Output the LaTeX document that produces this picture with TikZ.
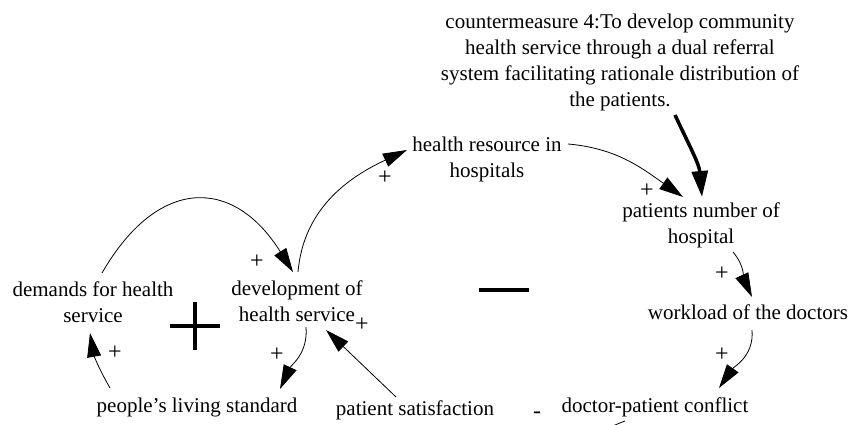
\documentclass[tikz,border=0pt]{standalone}
\usepackage{fontspec}
\setmainfont{Liberation Serif}
\usetikzlibrary{arrows.meta}
\begin{document}
\begin{tikzpicture}[x=1pt,y=1pt,
  lbl/.style={align=center,inner sep=0pt,font=\fontsize{21}{26}\selectfont},
  sgn/.style={inner sep=0pt,font=\fontsize{24}{26}\selectfont},
  link/.style={line width=0.8pt,-{Triangle[length=24pt,width=14pt]}},
  thicklink/.style={line width=3.5pt,-{Triangle[length=26pt,width=16pt]}},
  bigsign/.style={line width=4pt}]
\useasboundingbox (0,0) rectangle (854,425);
\clip (0,0) rectangle (854,425);
\fill[white] (0,0) rectangle (854,425);

\node[lbl] (cm) at (620,363) {countermeasure 4:To develop community\\health service through a dual referral\\system facilitating rationale distribution of\\the patients.};
\node[lbl] (res) at (487,266) {health resource in\\hospitals};
\node[lbl] (pat) at (701,200) {patients number of\\hospital};
\node[lbl] (wl) at (748,113) {workload of the doctors};
\node[lbl] (dpc) at (655,18) {doctor-patient conflict};
\node[lbl] (ps) at (415,15) {patient satisfaction};
\node[lbl] (pls) at (197,18) {people's living standard};
\node[lbl] (dem) at (93,123) {demands for health\\service};
\node[lbl] (dev) at (297,124) {development of\\health service};

% connectors
\draw[link] ([shift={(9,29)}]dem.center) to[out=60,in=122,looseness=1.5] ([shift={(-4,29)}]dev.center);
\draw[link] ([shift={(1,29)}]dev.center) to[out=85,in=205] ([shift={(-80,9)}]res.center);
\draw[link] ([shift={(81,15)}]res.center) to[out=-5,in=145] ([shift={(-18,28)}]pat.center);
\draw[thicklink] ([shift={(55,-53)}]cm.center) to[out=-65,in=95] ([shift={(1,28)}]pat.center);
\draw[link] ([shift={(32,-27)}]pat.center) to[out=-50,in=115] ([shift={(4,15)}]wl.center);
\draw[link] ([shift={(4,-18)}]wl.center) to[out=-85,in=55] ([shift={(64,19)}]dpc.center);
\draw[link] ([shift={(9,-26)}]dev.center) to[out=-85,in=65] ([shift={(83,18)}]pls.center);
\draw[link] ([shift={(-87,19)}]pls.center) to[out=120,in=-80] ([shift={(-3,-31)}]dem.center);
\draw[link] ([shift={(-19,13)}]ps.center) -- ([shift={(29,-29)}]dev.center);
\coordinate (offframe) at (560,-40);
\draw[line width=0.8pt] ([shift={(-30,-14)}]dpc.center) to[out=-160,in=40] (offframe);

% polarity signs
\node[sgn] (p1) at (257,163) {+};
\node[sgn] (p2) at (385,247) {+};
\node[sgn] (p3) at (647,234) {+};
\node[sgn] (p4) at (722,151) {+};
\node[sgn] (p5) at (722,70) {+};
\node[sgn] (p6) at (277,70) {+};
\node[sgn] (p7) at (115,72) {+};
\node[sgn] (p8) at (362,100) {+};
\node[sgn] (m1) at (537,10) {-};

% loop signs
\draw[bigsign] (170,99) -- (220,99);
\draw[bigsign] (195,75) -- (195,123);
\draw[bigsign] (479,135) -- (529,135);
\end{tikzpicture}
\end{document}
